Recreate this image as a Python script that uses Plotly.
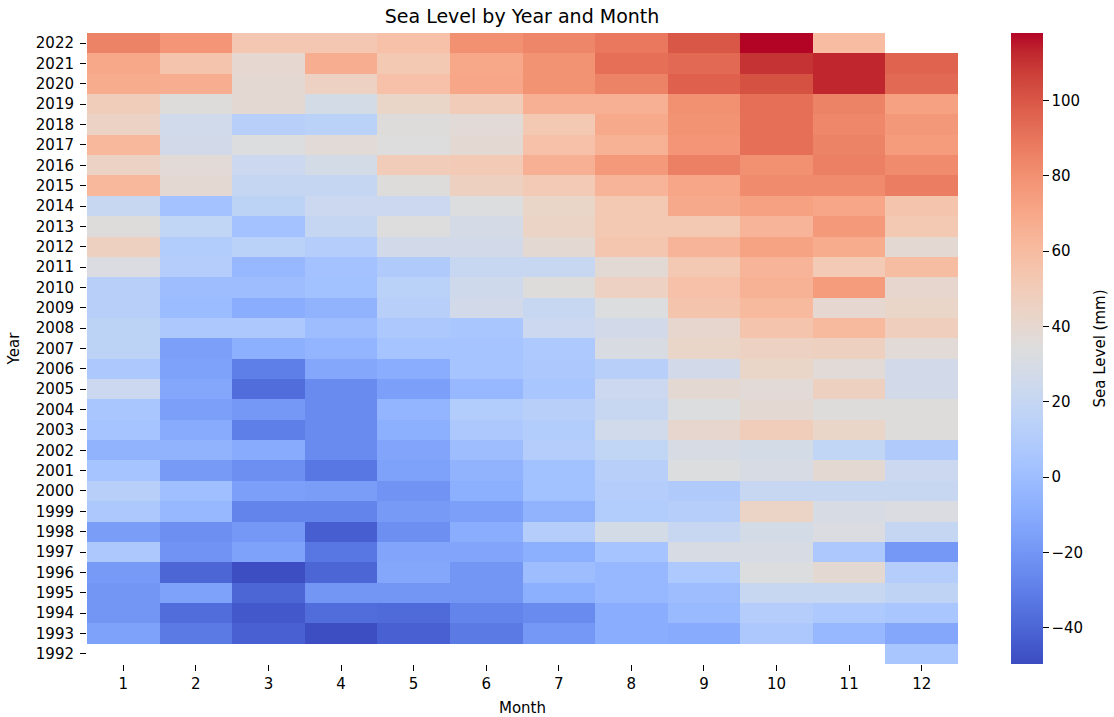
import plotly.graph_objects as go

months = [1, 2, 3, 4, 5, 6, 7, 8, 9, 10, 11, 12]
years = list(range(1992, 2023))

# Sea level (mm) per year, months 1..12 (None = no data)
y1992 = [None, None, None, None, None, None, None, None, None, None, None, 6]
y1993 = [-15, -32, -42, -49, -42, -32, -19, -9, -10, 7, -3, -12]
y1994 = [-20, -37, -45, -37, -38, -28, -25, -9, -2, 11, 8, 6]
y1995 = [-20, -15, -40, -20, -20, -20, -8, -3, 0, 21, 21, 17]
y1996 = [-18, -40, -49, -40, -12, -20, 0, -3, 8, 33, 39, 11]
y1997 = [7, -21, -15, -33, -13, -13, -8, 4, 30, 30, 7, -19]
y1998 = [-17, -23, -19, -43, -23, -9, 11, 28, 21, 28, 32, 20]
y1999 = [7, -3, -28, -28, -18, -16, -6, 10, 12, 44, 30, 32]
y2000 = [13, 1, -16, -17, -21, -8, 2, 11, 9, 21, 21, 21]
y2001 = [4, -18, -23, -33, -15, -6, 2, 13, 33, 30, 39, 23]
y2002 = [-6, -6, -10, -25, -13, 0, 11, 18, 30, 28, 18, 9]
y2003 = [4, -10, -30, -25, -8, 7, 10, 26, 41, 49, 43, 35]
y2004 = [6, -16, -19, -25, -5, 10, 13, 21, 33, 39, 35, 35]
y2005 = [23, -12, -37, -25, -16, -3, 6, 23, 39, 37, 47, 27]
y2006 = [7, -15, -30, -12, -9, 4, 7, 13, 27, 43, 37, 27]
y2007 = [16, -16, -8, -5, 4, 4, 8, 31, 43, 46, 47, 37]
y2008 = [16, 7, 7, 0, 7, 6, 23, 27, 41, 55, 61, 48]
y2009 = [13, -1, -9, -6, 13, 27, 21, 33, 55, 61, 40, 43]
y2010 = [13, 0, 0, 2, 14, 25, 35, 46, 57, 65, 75, 41]
y2011 = [32, 11, -3, 3, 9, 21, 21, 38, 52, 64, 51, 59]
y2012 = [47, 10, 14, 11, 27, 27, 39, 54, 64, 72, 68, 39]
y2013 = [35, 18, 3, 20, 34, 29, 44, 52, 52, 64, 76, 52]
y2014 = [21, 3, 16, 23, 23, 33, 43, 52, 69, 73, 71, 55]
y2015 = [62, 39, 20, 20, 35, 47, 51, 64, 71, 82, 82, 87]
y2016 = [45, 37, 23, 28, 50, 51, 66, 76, 86, 80, 86, 82]
y2017 = [62, 27, 33, 37, 34, 39, 57, 65, 78, 92, 85, 75]
y2018 = [45, 26, 13, 14, 35, 37, 52, 69, 79, 92, 83, 77]
y2019 = [49, 35, 39, 28, 43, 50, 66, 66, 80, 92, 85, 73]
y2020 = [68, 67, 39, 46, 57, 71, 79, 85, 97, 102, 113, 94]
y2021 = [70, 55, 40, 67, 52, 70, 79, 92, 94, 110, 113, 96]
y2022 = [85, 78, 53, 53, 57, 80, 84, 89, 100, 117.9, 60, None]

z = [y1992, y1993, y1994, y1995, y1996, y1997, y1998, y1999, y2000, y2001,
     y2002, y2003, y2004, y2005, y2006, y2007, y2008, y2009, y2010, y2011,
     y2012, y2013, y2014, y2015, y2016, y2017, y2018, y2019, y2020, y2021,
     y2022]

cbar_ticks = [-40, -20, 0, 20, 40, 60, 80, 100]
z_min, z_max = -49.6, 117.9

coolwarm_rgb = [
    (59, 76, 192), (68, 90, 204), (77, 104, 215), (87, 117, 225), (98, 130, 234),
    (108, 142, 241), (119, 154, 247), (130, 165, 251), (141, 176, 254),
    (152, 185, 255), (163, 194, 255), (174, 201, 253), (184, 208, 249),
    (194, 213, 244), (204, 217, 238), (213, 219, 230), (221, 221, 221),
    (229, 216, 209), (236, 211, 197), (241, 204, 185), (245, 196, 173),
    (247, 187, 160), (247, 177, 148), (247, 166, 135), (244, 154, 123),
    (241, 141, 111), (236, 127, 99), (229, 112, 88), (222, 96, 77),
    (213, 80, 66), (203, 62, 56), (192, 40, 47), (180, 4, 38)]
n = len(coolwarm_rgb) - 1
colorscale = [[i / n, "rgb(%d,%d,%d)" % c] for i, c in enumerate(coolwarm_rgb)]

font_family = "DejaVu Sans"
fs = 15

fig = go.Figure(go.Heatmap(
    z=z, x=months, y=years,
    colorscale=colorscale, zmin=z_min, zmax=z_max,
    xgap=0, ygap=0,
    colorbar=dict(
        tickvals=cbar_ticks,
        ticks="outside", ticklen=6, tickcolor="black",
        tickfont=dict(size=fs, family=font_family, color="black"),
        thickness=32, len=1.0, lenmode="fraction",
        x=1.0608, xanchor="left", xpad=0,
        y=0.5, yanchor="middle", ypad=0,
        outlinewidth=0,
    ),
))

fig.update_layout(
    width=1114, height=717,
    margin=dict(l=87, r=156, t=33, b=53, autoexpand=False),
    paper_bgcolor="white", plot_bgcolor="white",
    title=dict(text="Sea Level by Year and Month", x=0.4686, xanchor="center",
               yref="container", y=0.977, yanchor="middle",
               font=dict(size=19, family=font_family, color="black")),
    font=dict(family=font_family, color="black"),
    annotations=[dict(
        text="Sea Level (mm)", xref="paper", yref="paper",
        x=1.163, y=0.5, xanchor="center", yanchor="middle",
        textangle=-90, showarrow=False,
        font=dict(size=fs, family=font_family, color="black"),
    )],
)
fig.update_xaxes(
    title=dict(text="Month", font=dict(size=fs), standoff=12),
    tickvals=months, ticktext=[str(m) for m in months],
    range=[0.5, 12.5], ticks="outside", ticklen=6, tickcolor="black",
    tickfont=dict(size=fs), showgrid=False, zeroline=False, showline=False,
)
fig.update_yaxes(
    title=dict(text="Year", font=dict(size=fs), standoff=12),
    tickvals=years, ticktext=[str(y) for y in years],
    range=[1991.5, 2022.5], ticks="outside", ticklen=6, tickcolor="black",
    ticklabelstandoff=3,
    tickfont=dict(size=fs), showgrid=False, zeroline=False, showline=False,
)

fig.write_html(
    "out.html",
    config={"displayModeBar": False},
    post_script="document.body.style.margin='0';document.body.style.padding='0';",
)
